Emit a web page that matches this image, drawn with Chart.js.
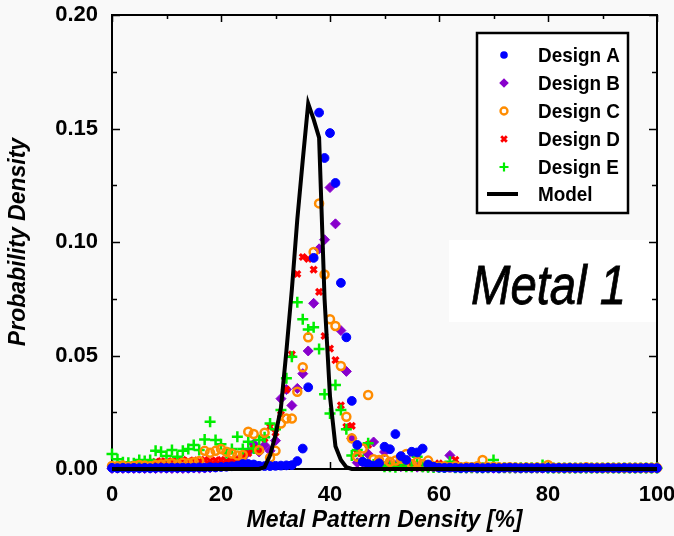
<!DOCTYPE html>
<html>
<head>
<meta charset="utf-8">
<script src="https://cdn.jsdelivr.net/npm/chart.js@4/dist/chart.umd.min.js"></script>
<style>
  html, body { margin: 0; padding: 0; background: #f9f9f9; }
  #wrap { width: 674px; height: 536px; position: relative; }
  canvas { display: block; }
</style>
</head>
<body>
<div id="wrap"><canvas id="c" width="674" height="536"></canvas></div>
<script>
// ---------------- DATA ----------------
const xValues = Array.from({length: 101}, (_, i) => i); // metal pattern density bins [%]
const xTicks = [0, 20, 40, 60, 80, 100];
const yTicks = [0.00, 0.05, 0.10, 0.15, 0.20];

const designA = [
  0.0005,0.0004,0.0005,0.0004,0.0005,0.0004,0.0005,0.0004,0.0005,0.0006,
  0.0005,0.0006,0.0005,0.0006,0.0005,0.0006,0.0007,0.0006,0.0008,0.0007,
  0.0009,0.0010,0.0012,0.0015,0.0022,0.0022,0.0020,0.0014,0.0013,0.0013,
  0.0014,0.0015,0.0016,0.0017,0.0035,0.0090,0.0360,0.0930,0.1570,0.1370,
  0.1480,0.1260,0.0820,0.0580,0.0300,0.0106,0.0032,0.0022,0.0015,0.0025,
  0.0098,0.0087,0.0154,0.0057,0.0040,0.0076,0.0073,0.0090,0.0020,0.0010,
  0.0006,0.0005,0.0006,0.0005,0.0004,0.0005,0.0006,0.0005,0.0004,0.0005,
  0.0005,0.0004,0.0005,0.0006,0.0005,0.0004,0.0005,0.0004,0.0005,0.0004,
  0.0005,0.0004,0.0005,0.0004,0.0005,0.0004,0.0004,0.0005,0.0004,0.0004,
  0.0004,0.0005,0.0004,0.0004,0.0005,0.0004,0.0004,0.0004,0.0005,0.0004,
  0.0004
];
const designB = [
  0.0002,0.0003,0.0002,0.0003,0.0002,0.0003,0.0002,0.0003,0.0002,0.0003,
  0.0003,0.0002,0.0003,0.0002,0.0003,0.0004,0.0003,0.0004,0.0005,0.0008,
  0.0012,0.0018,0.0025,0.0037,0.0050,0.0075,0.0110,0.0075,0.0105,0.0080,
  0.0125,0.0310,0.0350,0.0280,0.0355,0.0420,0.0520,0.0730,0.0970,0.1010,
  0.1240,0.1080,0.0610,0.0430,0.0135,0.0028,0.0030,0.0066,0.0119,0.0030,
  0.0075,0.0020,0.0015,0.0010,0.0015,0.0010,0.0008,0.0008,0.0007,0.0008,
  0.0007,0.0008,0.0060,0.0005,0.0004,0.0003,0.0004,0.0003,0.0003,0.0004,
  0.0003,0.0003,0.0004,0.0003,0.0003,0.0003,0.0004,0.0003,0.0003,0.0003,
  0.0003,0.0003,0.0003,0.0003,0.0003,0.0003,0.0003,0.0003,0.0003,0.0003,
  0.0003,0.0003,0.0003,0.0003,0.0003,0.0003,0.0003,0.0003,0.0003,0.0003,
  0.0003
];
const designC = [
  0.0013,0.0012,0.0015,0.0010,0.0013,0.0018,0.0015,0.0012,0.0018,0.0020,
  0.0022,0.0025,0.0020,0.0028,0.0025,0.0030,0.0035,0.0080,0.0072,0.0080,
  0.0088,0.0076,0.0068,0.0060,0.0062,0.0164,0.0154,0.0083,0.0160,0.0050,
  0.0080,0.0200,0.0222,0.0222,0.0340,0.0448,0.0580,0.0956,0.1170,0.0857,
  0.0660,0.0630,0.0454,0.0230,0.0135,0.0054,0.0090,0.0326,0.0043,0.0040,
  0.0044,0.0032,0.0037,0.0045,0.0066,0.0022,0.0032,0.0022,0.0037,0.0012,
  0.0010,0.0012,0.0008,0.0012,0.0008,0.0010,0.0008,0.0012,0.0040,0.0008,
  0.0010,0.0008,0.0007,0.0008,0.0007,0.0006,0.0007,0.0006,0.0007,0.0006,
  0.0018,0.0006,0.0005,0.0006,0.0005,0.0006,0.0005,0.0008,0.0005,0.0005,
  0.0005,0.0005,0.0005,0.0005,0.0005,0.0005,0.0005,0.0005,0.0005,0.0005,
  0.0005
];
const designD = [
  0.0015,0.0015,0.0018,0.0015,0.0018,0.0020,0.0018,0.0020,0.0032,0.0035,
  0.0030,0.0035,0.0032,0.0040,0.0035,0.0038,0.0035,0.0040,0.0035,0.0038,
  0.0040,0.0035,0.0040,0.0045,0.0055,0.0070,0.0090,0.0080,0.0135,0.0186,
  0.0160,0.0240,0.0350,0.0505,0.0859,0.0934,0.0926,0.0878,0.0780,0.0586,
  0.0530,0.0480,0.0280,0.0186,0.0190,0.0069,0.0030,0.0106,0.0020,0.0015,
  0.0010,0.0010,0.0009,0.0008,0.0009,0.0008,0.0008,0.0007,0.0008,0.0008,
  0.0025,0.0010,0.0010,0.0040,0.0005,0.0005,0.0005,0.0005,0.0005,0.0005,
  0.0005,0.0005,0.0005,0.0005,0.0005,0.0005,0.0005,0.0005,0.0005,0.0005,
  0.0005,0.0005,0.0005,0.0005,0.0005,0.0005,0.0005,0.0005,0.0005,0.0005,
  0.0005,0.0005,0.0005,0.0005,0.0005,0.0005,0.0005,0.0005,0.0005,0.0005,
  0.0005
];
const designE = [
  0.0066,0.0043,0.0030,0.0028,0.0025,0.0040,0.0035,0.0040,0.0080,0.0076,
  0.0057,0.0084,0.0054,0.0080,0.0088,0.0106,0.0084,0.0130,0.0208,0.0128,
  0.0109,0.0070,0.0088,0.0142,0.0088,0.0120,0.0090,0.0128,0.0140,0.0200,
  0.0175,0.0260,0.0400,0.0495,0.0735,0.0660,0.0615,0.0624,0.0529,0.0329,
  0.0245,0.0370,0.0260,0.0175,0.0060,0.0084,0.0040,0.0113,0.0020,0.0015,
  0.0010,0.0010,0.0008,0.0022,0.0010,0.0010,0.0054,0.0010,0.0008,0.0007,
  0.0008,0.0007,0.0032,0.0006,0.0005,0.0006,0.0005,0.0006,0.0005,0.0006,
  0.0040,0.0005,0.0005,0.0005,0.0005,0.0005,0.0005,0.0005,0.0005,0.0018,
  0.0004,0.0004,0.0004,0.0004,0.0004,0.0004,0.0004,0.0004,0.0004,0.0004,
  0.0004,0.0004,0.0004,0.0004,0.0004,0.0004,0.0004,0.0004,0.0004,0.0004,
  0.0004
];
const model = [
  0,0,0,0,0,0,0,0,0,0,
  0,0,0,0,0,0,0,0,0,0,
  0,0,0,0,0,0,0,0,0.0008,0.0060,
  0.0150,0.0270,0.0520,0.0790,0.1100,0.1360,0.1610,0.1540,0.1460,0.0750,
  0.0320,0.0100,0.0040,0.0008,0,0,0,0,0,0,
  0,0,0,0,0,0,0,0,0,0,
  0,0,0,0,0,0,0,0,0,0,
  0,0,0,0,0,0,0,0,0,0,
  0,0,0,0,0,0,0,0,0,0,
  0,0,0,0,0,0,0,0,0,0,
  0
];
const seriesNames = ['Design A', 'Design B', 'Design C', 'Design D', 'Design E', 'Model'];
const panelLabel = 'Metal 1';

// ---------------- CHART ----------------
const FONT = '"Liberation Sans", Arial, Helvetica, sans-serif';
const toXY = arr => xValues.map((x, i) => ({x: x, y: arr[i]}));

const styles = [
  {pointStyle: 'circle', radius: 4.4, bg: '#0000ff', border: '#0000ff', bw: 1},
  {pointStyle: 'rectRot', radius: 5, bg: '#8800cc', border: '#8800cc', bw: 1},
  {pointStyle: 'circle', radius: 4, bg: 'rgba(0,0,0,0)', border: '#ff8c00', bw: 2.5},
  {pointStyle: 'crossRot', radius: 4.2, bg: '#ff0000', border: '#ff0000', bw: 3.2},
  {pointStyle: 'cross', radius: 5.5, bg: '#00ee00', border: '#00ee00', bw: 2.5}
];
const seriesData = [designA, designB, designC, designD, designE];
const drawOrder = [1, 5, 2, 4, 3];

const datasets = seriesData.map((arr, i) => ({
  label: seriesNames[i],
  data: toXY(arr),
  showLine: false,
  pointStyle: styles[i].pointStyle,
  pointRadius: styles[i].radius,
  pointHoverRadius: styles[i].radius,
  pointBackgroundColor: styles[i].bg,
  pointBorderColor: styles[i].border,
  pointBorderWidth: styles[i].bw,
  backgroundColor: styles[i].bg,
  borderColor: styles[i].border,
  clip: false,
  order: drawOrder[i]
}));
datasets.push({
  label: seriesNames[5],
  data: toXY(model),
  showLine: true,
  borderColor: '#000000',
  borderWidth: 4,
  pointRadius: 0,
  fill: false,
  tension: 0,
  clip: false,
  order: 0,
  borderJoinStyle: 'miter'
});

const decorPlugin = {
  id: 'decor',
  beforeDatasetsDraw(chart) {
    const {ctx, chartArea: a, scales} = chart;
    ctx.save();
    // Metal 1 label box
    ctx.fillStyle = '#ffffff';
    ctx.fillRect(449, 240, a.right - 449, 82);
    ctx.fillStyle = '#000000';
    ctx.save();
    ctx.translate(471, 304);
    ctx.scale(0.86, 1);
    ctx.font = 'italic 55px ' + FONT;
    ctx.textBaseline = 'alphabetic';
    ctx.fillText(panelLabel, 0, 0);
    ctx.strokeStyle = '#000'; ctx.lineWidth = 0.8;
    ctx.strokeText(panelLabel, 0, 0);
    ctx.restore();

    // frame
    ctx.strokeStyle = '#000';
    ctx.lineWidth = 2;
    ctx.strokeRect(a.left, a.top, a.right - a.left, a.bottom - a.top);
    // ticks inward
    ctx.lineWidth = 1.5;
    const ys = scales.y, xs = scales.x;
    for (let v = 0; v <= 0.2001; v += 0.025) {
      const py = Math.round(ys.getPixelForValue(v)) + 0.5;
      const major = Math.abs(v / 0.05 - Math.round(v / 0.05)) < 1e-6;
      const len = major ? 8 : 5;
      ctx.beginPath();
      ctx.moveTo(a.left, py); ctx.lineTo(a.left + len, py);
      ctx.moveTo(a.right, py); ctx.lineTo(a.right - len, py);
      ctx.stroke();
    }
    for (let v = 0; v <= 100; v += 10) {
      const px = Math.round(xs.getPixelForValue(v)) + 0.5;
      const len = (v % 20 === 0) ? 7 : 4;
      ctx.beginPath();
      ctx.moveTo(px, a.top); ctx.lineTo(px, a.top + len);
      ctx.moveTo(px, a.bottom); ctx.lineTo(px, a.bottom - len);
      ctx.stroke();
    }
    ctx.restore();
  },
  afterDatasetsDraw(chart) {
    const {ctx} = chart;
    ctx.save();
    // legend box
    const bx = 477, by = 33, bw = 151, bh = 180;
    ctx.fillStyle = '#ffffff';
    ctx.fillRect(bx, by, bw, bh);
    ctx.strokeStyle = '#000';
    ctx.lineWidth = 2.5;
    ctx.strokeRect(bx, by, bw, bh);
    const rows = [55, 83, 111, 139, 167, 194];
    const mx = 504;
    for (let i = 0; i < 6; i++) {
      const y = rows[i];
      ctx.save();
      if (i < 5) {
        const s = styles[i];
        ctx.fillStyle = s.bg; ctx.strokeStyle = s.border;
        if (i === 0) { ctx.beginPath(); ctx.arc(mx, y, 3.8, 0, Math.PI * 2); ctx.fill(); }
        if (i === 1) { ctx.beginPath(); ctx.moveTo(mx, y - 4.8); ctx.lineTo(mx + 4.8, y); ctx.lineTo(mx, y + 4.8); ctx.lineTo(mx - 4.8, y); ctx.closePath(); ctx.fill(); }
        if (i === 2) { ctx.lineWidth = 2.3; ctx.beginPath(); ctx.arc(mx, y, 3.5, 0, Math.PI * 2); ctx.stroke(); }
        if (i === 3) { ctx.lineWidth = 2.8; ctx.beginPath(); ctx.moveTo(mx - 2.8, y - 2.8); ctx.lineTo(mx + 2.8, y + 2.8); ctx.moveTo(mx + 2.8, y - 2.8); ctx.lineTo(mx - 2.8, y + 2.8); ctx.stroke(); }
        if (i === 4) { ctx.lineWidth = 2.2; ctx.beginPath(); ctx.moveTo(mx - 4.5, y); ctx.lineTo(mx + 4.5, y); ctx.moveTo(mx, y - 4.5); ctx.lineTo(mx, y + 4.5); ctx.stroke(); }
      } else {
        ctx.strokeStyle = '#000'; ctx.lineWidth = 4;
        ctx.beginPath(); ctx.moveTo(487, y); ctx.lineTo(518, y); ctx.stroke();
      }
      ctx.restore();
      ctx.save();
      ctx.translate(538, y);
      ctx.scale(0.9, 1);
      ctx.fillStyle = '#000';
      ctx.font = 'bold 21px ' + FONT;
      ctx.textBaseline = 'middle';
      ctx.fillText(seriesNames[i], 0, 1);
      ctx.restore();
    }
    ctx.restore();
  }
};

new Chart(document.getElementById('c'), {
  type: 'scatter',
  data: { datasets: datasets },
  plugins: [decorPlugin],
  options: {
    responsive: false,
    animation: false,
    events: [],
    layout: { padding: { top: 15, right: 17, left: 0, bottom: 0 } },
    plugins: { legend: { display: false }, tooltip: { enabled: false } },
    scales: {
      x: {
        type: 'linear', min: 0, max: 100,
        afterFit: s => { s.height = 67; s.paddingLeft = 0; s.paddingRight = 0; },
        afterBuildTicks: s => { s.ticks = xTicks.map(v => ({value: v})); },
        grid: { display: false, drawTicks: false },
        border: { display: false },
        ticks: { color: '#000', padding: 13, maxRotation: 0, font: { family: FONT, size: 22, weight: 'bold' } },
        title: { display: true, text: 'Metal Pattern Density [%]', color: '#000',
                 font: { family: FONT, size: 23, weight: 'bold', style: 'italic' }, padding: { top: 0, bottom: 2 } }
      },
      y: {
        type: 'linear', min: 0, max: 0.2,
        afterFit: s => { s.width = 112; s.paddingTop = 0; s.paddingBottom = 0; },
        afterBuildTicks: s => { s.ticks = yTicks.map(v => ({value: v})); },
        grid: { display: false, drawTicks: false },
        border: { display: false },
        ticks: { color: '#000', padding: 14, font: { family: FONT, size: 22, weight: 'bold' },
                 callback: v => Number(v).toFixed(2) },
        title: { display: true, text: 'Probability Density', color: '#000',
                 font: { family: FONT, size: 23, weight: 'bold', style: 'italic' }, padding: { top: 5, bottom: 0 } }
      }
    }
  }
});
</script>
</body>
</html>
